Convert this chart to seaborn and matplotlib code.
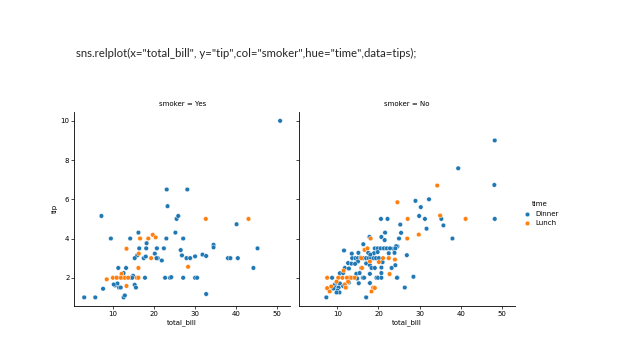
import pandas as pd
import matplotlib
matplotlib.use("Agg")
import matplotlib.pyplot as plt
import seaborn as sns

# values (smoker = Yes panel)
yes_dinner_bill = [50.8, 23.2, 28.2, 23.4, 7.3, 25.6, 26.0, 40.2, 9.6, 14.3,
                   16.3, 23.1, 25.3, 27.2, 18.3, 18.2, 20.8, 22.5, 26.6, 34.6,
                   34.6, 45.3, 16.0, 15.4, 17.6, 18.1, 20.3, 21.0, 22.0, 26.9,
                   28.0, 28.9, 30.1, 31.9, 32.8, 38.1, 38.7, 40.5, 11.4, 13.3,
                   44.3, 12.7, 15.0, 14.5, 17.9, 22.8, 24.0, 24.3, 27.2, 30.1,
                   30.6, 11.0, 10.6, 11.2, 11.6, 12.0, 7.7, 15.4, 15.7, 12.7,
                   13.0, 3.1, 5.8, 32.8, 12.9, 10.3, 14.8, 16.5, 20.7]
yes_dinner_tip = [10.0, 6.5, 6.5, 5.65, 5.15, 5.0, 5.15, 4.73, 4.0, 4.0,
                  4.3, 4.0, 4.3, 4.0, 3.76, 3.5, 3.5, 3.5, 3.41, 3.68,
                  3.55, 3.5, 3.14, 3.0, 3.0, 3.08, 3.23, 3.0, 2.88, 3.14,
                  3.0, 3.0, 3.09, 3.18, 3.11, 3.0, 3.0, 3.0, 2.5, 2.5,
                  2.5, 2.24, 2.1, 2.0, 2.0, 2.0, 2.0, 2.03, 2.0, 2.0,
                  2.0, 2.0, 1.61, 1.71, 1.5, 1.5, 1.44, 1.64, 1.5, 1.0,
                  1.1, 1.0, 1.0, 1.17, 2.0, 1.66, 2.0, 3.5, 3.0]
yes_lunch_bill = [32.7, 43.1, 16.7, 18.7, 19.8, 20.5, 13.4, 16.4, 16.3, 19.4,
                  28.4, 8.6, 10.1, 12.2, 12.6, 13.0, 13.8, 15.9, 16.3, 13.4,
                  12.0, 11.0]
yes_lunch_tip = [5.0, 5.0, 4.0, 4.0, 4.19, 4.06, 3.48, 3.23, 2.5, 3.0,
                 2.56, 1.92, 2.0, 2.2, 2.0, 2.0, 2.0, 2.0, 2.0, 1.58,
                 2.0, 2.0]

# values (smoker = No panel)
no_dinner_bill = [48.3, 39.4, 48.2, 48.3, 29.0, 32.3, 30.3, 29.9, 31.3, 20.6,
                  22.2, 25.3, 35.3, 35.8, 31.7, 38.0, 21.6, 25.5, 20.7, 21.5,
                  17.8, 11.6, 16.3, 25.0, 24.6, 23.7, 24.3, 26.9, 28.5, 26.4,
                  17.0, 7.3,
                  13.6, 14.4, 15.0, 15.6, 16.3, 17.0, 17.6, 18.2, 18.8, 19.4, 20.1,
                  19.1, 19.8, 20.5, 21.3, 22.0, 22.8, 24.1,
                  13.5, 15.1, 17.5, 18.9, 19.8, 22.5, 23.9,
                  12.6, 13.4, 15.0, 17.0, 17.9, 14.3,
                  11.8, 12.8, 15.8, 18.3, 19.1, 20.7,
                  20.7, 24.1, 24.6,
                  10.6, 11.4, 14.6, 15.4, 17.9,
                  8.7, 14.6, 16.2, 19.5, 19.9, 20.7, 24.5,
                  9.4, 9.8, 10.6, 12.8, 15.2, 17.9,
                  9.6, 10.2, 10.3, 11.4, 10.0, 10.5, 9.8, 9.0,
                  16.5, 18.0, 13.0, 12.1, 21.0, 23.2, 14.8]
no_dinner_tip = [9.0, 7.58, 6.73, 5.0, 5.92, 6.0, 5.6, 5.15, 5.0, 5.0,
                 5.0, 4.71, 5.0, 4.67, 4.5, 4.0, 4.3, 4.29, 4.08, 3.92,
                 4.08, 3.39, 3.71, 4.0, 3.6, 3.48, 3.61, 3.15, 2.05, 1.5,
                 1.0, 1.0,
                 3.0, 3.0, 3.0, 3.02, 3.0, 3.0, 3.0, 3.0, 3.0, 3.0, 3.0,
                 3.5, 3.5, 3.5, 3.5, 3.5, 3.5, 3.5,
                 3.23, 3.27, 3.27, 3.25, 3.31, 3.25, 3.27,
                 2.75, 2.72, 2.83, 2.73, 2.64, 2.71,
                 2.5, 2.47, 2.5, 2.5, 2.5, 2.52,
                 2.24, 2.64, 2.0,
                 2.23, 2.24, 2.2, 2.24, 2.2,
                 2.0, 2.0, 2.0, 2.0, 2.0, 2.0, 2.0,
                 1.66, 1.76, 1.71, 1.76, 1.72, 1.73,
                 1.5, 1.48, 1.5, 1.58, 1.35, 1.25, 1.25, 1.45,
                 2.0, 3.18, 2.0, 1.5, 2.8, 2.5, 1.96]
no_lunch_bill = [34.3, 24.6, 27.1, 35.0, 41.2, 29.8, 27.0, 22.7, 24.0, 20.1,
                 21.1, 22.5, 18.1, 16.6, 17.3, 15.8, 17.9, 18.7, 19.1, 18.3,
                 7.5, 10.2, 11.2, 12.3, 13.4, 14.2, 11.5, 7.5, 8.5, 8.1,
                 11.8, 12.6, 9.8, 16.0, 12.0]
no_lunch_tip = [6.7, 5.85, 5.0, 5.17, 5.0, 4.2, 4.0, 2.19, 2.93, 2.8,
                3.0, 3.0, 4.0, 3.42, 3.5, 3.0, 2.83, 1.5, 1.48, 1.3,
                2.0, 2.0, 2.0, 2.0, 2.0, 2.0, 2.36, 1.47, 1.56, 1.3,
                1.66, 1.8, 1.8, 2.5, 1.5]


def group(bill, tip, smoker, time):
    return pd.DataFrame({"total_bill": bill, "tip": tip,
                         "smoker": smoker, "time": time})


tips = pd.concat([
    group(yes_dinner_bill, yes_dinner_tip, "Yes", "Dinner"),
    group(yes_lunch_bill, yes_lunch_tip, "Yes", "Lunch"),
    group(no_dinner_bill, no_dinner_tip, "No", "Dinner"),
    group(no_lunch_bill, no_lunch_tip, "No", "Lunch"),
], ignore_index=True)

plt.rcParams["font.size"] = 5
plt.rcParams["axes.linewidth"] = 0.6
plt.rcParams["xtick.major.width"] = 0.5
plt.rcParams["ytick.major.width"] = 0.5
plt.rcParams["xtick.major.size"] = 2
plt.rcParams["ytick.major.size"] = 2
plt.rcParams["xtick.major.pad"] = 1.5
plt.rcParams["ytick.major.pad"] = 1.5
plt.rcParams["xtick.labelsize"] = 5
plt.rcParams["ytick.labelsize"] = 5
plt.rcParams["axes.labelsize"] = 5
plt.rcParams["axes.titlesize"] = 5

g = sns.relplot(x="total_bill", y="tip", col="smoker", hue="time",
                col_order=["Yes", "No"], hue_order=["Dinner", "Lunch"],
                data=tips, s=11, linewidth=0.3, edgecolor="white",
                height=2, aspect=1)

fig = g.figure
fig.set_size_inches(6.38, 3.59)
g.axes[0, 0].set_position([0.1165, 0.1476, 0.338, 0.541])
g.axes[0, 1].set_position([0.469, 0.1476, 0.338, 0.541])
g.set(xlim=(0.7, 53.2), ylim=(0.56, 10.46))
g.set_axis_labels("total_bill", "tip", labelpad=2)
for ax in g.axes.flat:
    ax.set_title(ax.get_title(), pad=4)

sns.move_legend(g, "center left", bbox_to_anchor=(0.806, 0.404),
                frameon=False, fontsize=5, title_fontsize=5,
                markerscale=1.0, handletextpad=0.2, labelspacing=0.5)

fig.text(0.119, 0.851, 'sns.relplot(x="total_bill", y="tip",col="smoker",hue="time",data=tips);',
         fontsize=8.2, family="Lato", color="#262626", va="center", ha="left")

fig.savefig("out.png", dpi=100)
